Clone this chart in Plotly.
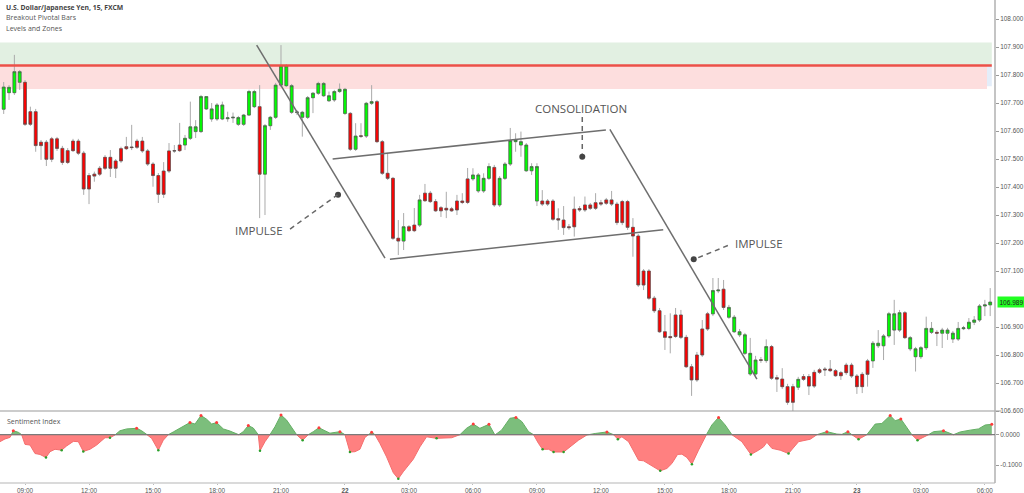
import plotly.graph_objects as go
import pandas as pd

# ---------------- data ----------------
title_lines = ["U.S. Dollar/Japanese Yen, 15, FXCM", "Breakout Pivotal Bars", "Levels and Zones"]
start_time = "2019-05-21 08:00"
bar_minutes = 15

opens = [107.678, 107.737, 107.737, 107.774, 107.774, 107.669, 107.669, 107.560, 107.560, 107.572,
         107.572, 107.538, 107.530, 107.564, 107.564, 107.521, 107.441, 107.446, 107.467, 107.506,
         107.506, 107.493, 107.537, 107.544, 107.543, 107.564, 107.564, 107.529, 107.482, 107.441,
         107.457, 107.529, 107.530, 107.550, 107.550, 107.574, 107.598, 107.598, 107.679, 107.643,
         107.643, 107.643, 107.644, 107.647, 107.624, 107.624, 107.657, 107.687, 107.687, 107.446,
         107.619, 107.649, 107.764, 107.762, 107.667, 107.666, 107.649, 107.649, 107.719, 107.735,
         107.726, 107.708, 107.711, 107.741, 107.663, 107.663, 107.535, 107.583, 107.582, 107.699,
         107.705, 107.562, 107.449, 107.431, 107.217, 107.207, 107.258, 107.264, 107.264, 107.378,
         107.378, 107.348, 107.326, 107.324, 107.322, 107.350, 107.350, 107.429, 107.429, 107.386,
         107.386, 107.431, 107.470, 107.336, 107.431, 107.482, 107.562, 107.550, 107.458, 107.458,
         107.350, 107.350, 107.350, 107.350, 107.287, 107.282, 107.258, 107.321, 107.323, 107.336,
         107.336, 107.344, 107.344, 107.354, 107.354, 107.339, 107.348, 107.348, 107.256, 107.225,
         107.100, 107.100, 107.003, 106.958, 106.883, 106.866, 106.943, 106.943, 106.863, 106.758,
         106.800, 106.893, 106.947, 106.947, 107.029, 107.035, 106.935, 106.883, 106.872, 106.806,
         106.732, 106.732, 106.783, 106.780, 106.830, 106.719, 106.714, 106.687, 106.687, 106.685,
         106.723, 106.723, 106.738, 106.747, 106.750, 106.750, 106.744, 106.737, 106.764, 106.764,
         106.725, 106.731, 106.779, 106.779, 106.833, 106.833, 106.868, 106.889, 106.889, 106.951,
         106.822, 106.794, 106.794, 106.826, 106.881, 106.881, 106.878, 106.878, 106.857, 106.857,
         106.894, 106.895, 106.917, 106.925, 106.975, 106.979]
highs = [107.775, 107.764, 107.872, 107.818, 107.782, 107.687, 107.679, 107.568, 107.568, 107.579,
         107.579, 107.547, 107.539, 107.572, 107.572, 107.529, 107.450, 107.455, 107.475, 107.514,
         107.532, 107.500, 107.544, 107.579, 107.622, 107.572, 107.579, 107.536, 107.489, 107.450,
         107.489, 107.557, 107.550, 107.629, 107.586, 107.705, 107.639, 107.729, 107.725, 107.700,
         107.700, 107.705, 107.669, 107.666, 107.654, 107.661, 107.747, 107.747, 107.764, 107.625,
         107.654, 107.772, 107.907, 107.839, 107.768, 107.675, 107.672, 107.725, 107.739, 107.776,
         107.775, 107.741, 107.747, 107.770, 107.754, 107.668, 107.628, 107.628, 107.704, 107.764,
         107.711, 107.568, 107.522, 107.436, 107.282, 107.307, 107.264, 107.325, 107.372, 107.411,
         107.386, 107.357, 107.332, 107.383, 107.329, 107.372, 107.378, 107.468, 107.467, 107.450,
         107.449, 107.485, 107.479, 107.439, 107.489, 107.611, 107.592, 107.598, 107.557, 107.485,
         107.485, 107.389, 107.357, 107.357, 107.324, 107.332, 107.268, 107.366, 107.332, 107.366,
         107.343, 107.378, 107.354, 107.361, 107.386, 107.347, 107.354, 107.354, 107.289, 107.232,
         107.107, 107.107, 107.011, 106.968, 106.943, 106.949, 106.968, 106.961, 106.872, 106.768,
         106.811, 106.925, 106.954, 107.075, 107.075, 107.068, 106.979, 106.943, 106.893, 106.879,
         106.861, 106.797, 106.793, 106.856, 106.836, 106.729, 106.753, 106.697, 106.697, 106.722,
         106.732, 106.732, 106.747, 106.754, 106.757, 106.782, 106.750, 106.743, 106.772, 106.772,
         106.732, 106.739, 106.786, 106.850, 106.889, 106.875, 106.954, 106.997, 106.961, 106.957,
         106.868, 106.829, 106.832, 106.937, 106.918, 106.889, 106.897, 106.897, 106.886, 106.918,
         106.904, 106.932, 106.939, 106.982, 106.997, 107.039]
lows = [107.661, 107.711, 107.729, 107.747, 107.618, 107.618, 107.526, 107.497, 107.475, 107.489,
        107.529, 107.479, 107.482, 107.525, 107.514, 107.372, 107.339, 107.419, 107.439, 107.461,
        107.436, 107.432, 107.486, 107.532, 107.532, 107.536, 107.522, 107.475, 107.401, 107.343,
        107.361, 107.450, 107.522, 107.525, 107.532, 107.568, 107.575, 107.593, 107.675, 107.633,
        107.636, 107.639, 107.633, 107.629, 107.618, 107.618, 107.654, 107.682, 107.289, 107.300,
        107.604, 107.643, 107.757, 107.757, 107.661, 107.657, 107.580, 107.643, 107.664, 107.729,
        107.722, 107.704, 107.704, 107.736, 107.657, 107.529, 107.529, 107.575, 107.575, 107.693,
        107.557, 107.443, 107.425, 107.211, 107.157, 107.175, 107.239, 107.239, 107.257, 107.347,
        107.343, 107.311, 107.293, 107.289, 107.311, 107.300, 107.339, 107.339, 107.422, 107.379,
        107.379, 107.425, 107.329, 107.329, 107.425, 107.475, 107.526, 107.508, 107.454, 107.443,
        107.332, 107.332, 107.332, 107.279, 107.247, 107.229, 107.247, 107.223, 107.311, 107.311,
        107.318, 107.318, 107.332, 107.336, 107.332, 107.264, 107.264, 107.247, 107.151, 107.043,
        107.032, 106.997, 106.950, 106.879, 106.818, 106.806, 106.861, 106.857, 106.754, 106.654,
        106.704, 106.793, 106.886, 106.939, 107.021, 106.961, 106.929, 106.879, 106.864, 106.800,
        106.725, 106.718, 106.772, 106.772, 106.711, 106.668, 106.679, 106.622, 106.593, 106.675,
        106.707, 106.657, 106.682, 106.732, 106.725, 106.739, 106.722, 106.711, 106.729, 106.718,
        106.661, 106.664, 106.687, 106.754, 106.825, 106.782, 106.861, 106.836, 106.882, 106.857,
        106.814, 106.741, 106.786, 106.818, 106.875, 106.832, 106.825, 106.854, 106.843, 106.850,
        106.889, 106.889, 106.907, 106.918, 106.939, 106.939]
closes = [107.757, 107.756, 107.812, 107.812, 107.624, 107.624, 107.548, 107.548, 107.499, 107.499,
          107.538, 107.488, 107.488, 107.530, 107.521, 107.393, 107.393, 107.439, 107.446, 107.467,
          107.467, 107.467, 107.493, 107.537, 107.541, 107.542, 107.529, 107.482, 107.441, 107.374,
          107.374, 107.457, 107.529, 107.530, 107.574, 107.615, 107.615, 107.723, 107.723, 107.679,
          107.693, 107.693, 107.647, 107.649, 107.648, 107.657, 107.741, 107.741, 107.446, 107.619,
          107.649, 107.764, 107.833, 107.833, 107.762, 107.668, 107.667, 107.719, 107.735, 107.770,
          107.770, 107.726, 107.741, 107.749, 107.749, 107.535, 107.582, 107.581, 107.699, 107.705,
          107.562, 107.449, 107.431, 107.217, 107.207, 107.258, 107.244, 107.244, 107.354, 107.351,
          107.348, 107.315, 107.315, 107.318, 107.315, 107.318, 107.345, 107.345, 107.443, 107.443,
          107.431, 107.473, 107.336, 107.431, 107.482, 107.566, 107.568, 107.562, 107.550, 107.473,
          107.473, 107.339, 107.339, 107.285, 107.282, 107.255, 107.255, 107.258, 107.318, 107.318,
          107.324, 107.324, 107.339, 107.342, 107.339, 107.273, 107.273, 107.256, 107.225, 107.050,
          107.050, 107.003, 106.958, 106.883, 106.863, 106.862, 106.866, 106.863, 106.758, 106.711,
          106.711, 106.800, 106.893, 107.030, 107.032, 106.970, 106.970, 106.935, 106.883, 106.872,
          106.806, 106.782, 106.781, 106.830, 106.717, 106.714, 106.687, 106.631, 106.631, 106.713,
          106.713, 106.689, 106.689, 106.738, 106.747, 106.744, 106.726, 106.726, 106.737, 106.725,
          106.687, 106.687, 106.731, 106.842, 106.842, 106.868, 106.947, 106.947, 106.951, 106.862,
          106.862, 106.822, 106.826, 106.895, 106.895, 106.878, 106.889, 106.889, 106.878, 106.895,
          106.897, 106.917, 106.925, 106.975, 106.979, 106.989]

last_price_label = "106.989"

# Sentiment Index: positions in bar units, values
sent_idx = [-0.7, 0.24, 1.18, 1.8, 2.74, 3.37, 4.0, 4.93, 5.87, 6.8, 7.93, 8.68, 9.62, 10.87, 11.8,
            13.06, 14.0, 14.93, 16.18, 17.43, 19.0, 19.93, 20.87, 21.8, 23.06, 24.93, 25.87, 26.8,
            27.74, 29.0, 29.93, 30.87, 31.8, 33.37, 34.93, 35.87, 37.0, 38.06, 39.0, 39.93, 41.18,
            42.43, 44.0, 44.93, 45.87, 46.8, 47.74, 48.06, 49.0, 49.93, 50.87, 52.0, 53.06, 54.3,
            54.93, 56.06, 57.12, 58.06, 59.12, 60.24, 61.18, 63.06, 64.0, 64.93, 65.87, 66.8, 67.74,
            69.0, 69.62, 70.56, 71.8, 73.06, 74.0, 74.93, 76.8, 78.06, 79.3, 81.18, 84.0, 85.56,
            86.8, 88.06, 89.3, 91.0, 92.12, 93.37, 94.93,
            96.06, 97.18, 98.43, 99.37, 100.3, 101.06, 102.18, 103.12, 105.0, 106.24, 107.8, 109.37,
            110.93, 113.12, 114.37, 115.18, 115.93, 117.18, 119.06, 120.0, 121.24, 123.12, 124.37,
            125.3, 126.37, 127.18, 128.12, 129.06, 130.3, 131.56, 132.8, 134.06, 135.3, 136.56,
            138.43, 140.12, 141.56, 142.5, 143.12, 144.06, 145.62, 147.18, 149.06, 151.24, 152.5,
            154.37, 156.24, 157.18, 158.31, 159.06, 160.31, 161.87, 163.43, 164.68, 166.24, 167.18,
            168.24, 170.3, 171.37, 172.8, 173.43, 174.37, 176.24, 178.12, 179.37, 181.24, 182.8,
            184.06, 185.3]
sent_val = [-0.023, -0.014, -0.009, 0.013, 0.008, 0.0, -0.032, -0.034, -0.062, -0.065, -0.075,
            -0.056, -0.048, -0.051, -0.037, -0.022, -0.023, -0.055, -0.048, -0.034, -0.010, -0.010,
            -0.001, 0.013, 0.019, 0.021, 0.013, 0.001, -0.012, -0.051, -0.018, 0.0, 0.009, 0.026,
            0.040, 0.035, 0.063, 0.051, 0.035, 0.040, 0.019, 0.012, -0.001, 0.010, 0.030, 0.022,
            0.0, -0.053, -0.023, 0.0, 0.026, 0.065, 0.048, 0.015, 0.0, -0.018, 0.0, 0.010, 0.023,
            0.013, 0.005, 0.010, 0.0, -0.057, -0.056, -0.048, -0.009, 0.008, 0.0, -0.029, -0.073,
            -0.125, -0.145, -0.122, -0.081, -0.040, -0.007, -0.012, -0.010, 0.0, 0.021, 0.035,
            0.021, 0.034, -0.001, 0.015, 0.054,
            0.057, 0.043, 0.010, 0.0, -0.029, -0.048, -0.048, -0.057, -0.057, -0.040, -0.018,
            -0.001, 0.004, 0.009, 0.0, -0.015, -0.007, -0.023, -0.084, -0.086, -0.100, -0.119,
            -0.111, -0.095, -0.065, -0.064, -0.075, -0.097, -0.051, -0.007, 0.032, 0.057, 0.032,
            0.0, -0.023, -0.065, -0.051, -0.040, -0.025, -0.045, -0.051, -0.062, -0.023, -0.015,
            0.0, 0.010, 0.002, 0.001, 0.010, 0.0, -0.015, 0.0, 0.035, 0.037, 0.063, 0.046, 0.052,
            0.0, -0.018, -0.007, 0.0, 0.010, 0.013, 0.0, 0.009, 0.015, 0.019, 0.032, 0.034]

# Levels & zones (prices)
resistance_level = 107.834
green_zone_top = 107.916
pink_zone_bottom = 107.750
zone_end_idx = 185.3
pink_end_idx = 184.4

# Drawn trendlines: (bar index, price) pairs
impulse1_line = [(47.44, 107.907), (71.5, 107.146)]
channel_upper = [(61.69, 107.500), (112.93, 107.604)]
channel_lower = [(72.43, 107.142), (123.68, 107.247)]
impulse2_line = [(113.68, 107.606), (141.25, 106.714)]

# Labels: text, (bar index, price)
labels = [("IMPULSE", 47.9, 107.243), ("CONSOLIDATION", 108.25, 107.682), ("IMPULSE", 141.6, 107.200)]
pointers = [  # dashed connector from, to (dot at 'to')
    ((53.7, 107.250), (62.6, 107.372)),
    ((108.5, 107.650), (108.5, 107.520)),
    ((135.8, 107.191), (129.5, 107.142)),
]
pointer_dots = [(62.7, 107.372), (108.5, 107.508), (129.4, 107.142)]

x_tick_idx = [4, 16, 28, 40, 52, 64, 76, 88, 100, 112, 124, 136, 148, 160, 172, 184]
x_tick_text = ["09:00", "12:00", "15:00", "18:00", "21:00", "<b>22</b>", "03:00", "06:00",
               "09:00", "12:00", "15:00", "18:00", "21:00", "<b>23</b>", "03:00", "06:00"]
price_ticks = [106.6, 106.7, 106.8, 106.9, 107.1, 107.2, 107.3, 107.4, 107.5, 107.6, 107.7, 107.8, 107.9, 108.0]
sent_ticks = [0.0, -0.1]

# ---------------- helpers ----------------
t0 = pd.Timestamp(start_time)
def T(i):
    return t0 + pd.Timedelta(minutes=bar_minutes * i)

n = len(opens)
times = [T(i) for i in range(n)]

fig = go.Figure()

# wicks (full-range candles in light grey, bodies drawn on top)
fig.add_trace(go.Candlestick(
    x=times, open=opens, high=highs, low=lows, close=closes,
    increasing=dict(fillcolor="#00FF00", line=dict(color="#aaaaaa", width=1)),
    decreasing=dict(fillcolor="#FF0000", line=dict(color="#aaaaaa", width=1)),
    whiskerwidth=0, showlegend=False, hoverinfo="skip", xaxis="x", yaxis="y"))

body_hi = [max(o, c) for o, c in zip(opens, closes)]
body_lo = [min(o, c) for o, c in zip(opens, closes)]
fig.add_trace(go.Candlestick(
    x=times, open=opens, high=body_hi, low=body_lo, close=closes,
    increasing=dict(fillcolor="#00FF00", line=dict(color="#505050", width=0.6)),
    decreasing=dict(fillcolor="#FF0000", line=dict(color="#505050", width=0.6)),
    whiskerwidth=0, showlegend=False, xaxis="x", yaxis="y"))

# sentiment split into positive / negative fills
px_, py_, nx_, ny_ = [], [], [], []
for k in range(len(sent_idx)):
    if k > 0:
        a, b = sent_val[k - 1], sent_val[k]
        if a * b < 0:
            xi = sent_idx[k - 1] + (sent_idx[k] - sent_idx[k - 1]) * (a / (a - b))
            px_.append(T(xi)); py_.append(0.0)
            nx_.append(T(xi)); ny_.append(0.0)
    v = sent_val[k]
    px_.append(T(sent_idx[k])); py_.append(max(v, 0.0))
    nx_.append(T(sent_idx[k])); ny_.append(min(v, 0.0))

fig.add_trace(go.Scatter(x=px_, y=py_, mode="lines", fill="tozeroy",
                         fillcolor="rgb(124,190,124)", line=dict(color="rgb(100,175,100)", width=1),
                         hoverinfo="skip", showlegend=False, xaxis="x", yaxis="y2"))
fig.add_trace(go.Scatter(x=nx_, y=ny_, mode="lines", fill="tozeroy",
                         fillcolor="rgb(255,128,128)", line=dict(color="rgb(245,110,110)", width=1),
                         hoverinfo="skip", showlegend=False, xaxis="x", yaxis="y2"))

hi_x, hi_y, lo_x, lo_y = [], [], [], []
for k in range(1, len(sent_val) - 1):
    v = sent_val[k]
    if v > 0.004 and v >= sent_val[k - 1] and v >= sent_val[k + 1]:
        hi_x.append(T(sent_idx[k])); hi_y.append(v)
    if v < -0.004 and v <= sent_val[k - 1] and v <= sent_val[k + 1]:
        lo_x.append(T(sent_idx[k])); lo_y.append(v)
hi_x.append(T(sent_idx[-1])); hi_y.append(sent_val[-1])
fig.add_trace(go.Scatter(x=hi_x, y=hi_y, mode="markers", marker=dict(color="#ff3b3b", size=3),
                         hoverinfo="skip", showlegend=False, xaxis="x", yaxis="y2"))
fig.add_trace(go.Scatter(x=lo_x, y=lo_y, mode="markers", marker=dict(color="#2aa02a", size=2.5),
                         hoverinfo="skip", showlegend=False, xaxis="x", yaxis="y2"))

# ---------------- shapes ----------------
shapes = []
shapes.append(dict(type="rect", xref="x", yref="y", x0=T(-0.8), x1=T(zone_end_idx),
                   y0=resistance_level, y1=green_zone_top, fillcolor="rgb(226,240,226)",
                   line=dict(width=0), layer="below"))
shapes.append(dict(type="rect", xref="x", yref="y", x0=T(-0.8), x1=T(pink_end_idx),
                   y0=pink_zone_bottom, y1=resistance_level, fillcolor="rgb(253,222,222)",
                   line=dict(width=0), layer="below"))
shapes.append(dict(type="rect", xref="x", yref="y", x0=T(pink_end_idx), x1=T(zone_end_idx),
                   y0=pink_zone_bottom + 0.01, y1=resistance_level, fillcolor="rgb(228,238,250)",
                   line=dict(width=0), layer="below"))
shapes.append(dict(type="line", xref="x", yref="y", x0=T(-0.8), x1=T(zone_end_idx),
                   y0=resistance_level, y1=resistance_level,
                   line=dict(color="rgb(236,80,72)", width=2.5)))

for ln in (impulse1_line, channel_upper, channel_lower, impulse2_line):
    (i0, p0), (i1, p1) = ln
    shapes.append(dict(type="line", xref="x", yref="y", x0=T(i0), y0=p0, x1=T(i1), y1=p1,
                       line=dict(color="#6e6e6e", width=1.5)))
for (i0, p0), (i1, p1) in pointers:
    shapes.append(dict(type="line", xref="x", yref="y", x0=T(i0), y0=p0, x1=T(i1), y1=p1,
                       line=dict(color="#666666", width=1.5, dash="5px,4px")))

# panel borders
split = 72 / 483
shapes.append(dict(type="line", xref="paper", yref="paper", x0=0, x1=1.006, y0=split, y1=split,
                   line=dict(color="#9a9a9a", width=1.2)))
shapes.append(dict(type="line", xref="paper", yref="paper", x0=0, x1=1.0, y0=0, y1=0,
                   line=dict(color="#b5b5b5", width=1.2)))
shapes.append(dict(type="line", xref="paper", yref="paper", x0=1, x1=1, y0=0, y1=1,
                   line=dict(color="#b0b0b0", width=1.5)))
shapes.append(dict(type="line", xref="x", yref="y2", x0=T(-0.8), x1=T(186.2), y0=0, y1=0,
                   line=dict(color="#7a7a7a", width=1.2)))

fig.add_trace(go.Scatter(x=[T(d[0]) for d in pointer_dots], y=[d[1] for d in pointer_dots],
                         mode="markers", marker=dict(color="#444", size=6),
                         hoverinfo="skip", showlegend=False, xaxis="x", yaxis="y"))

# ---------------- annotations ----------------
ann = []
for txt, i, p in labels:
    ann.append(dict(text=txt, x=T(i), y=p, xref="x", yref="y", showarrow=False,
                    font=dict(family="Open Sans", size=11.5, color="#555555")))
ann.append(dict(text="<b>" + title_lines[0] + "</b>", x=0.004, y=1 - 8 / 483, xref="paper", yref="paper",
                xanchor="left", yanchor="middle", showarrow=False,
                font=dict(family="Open Sans", size=6.8, color="#444")))
ann.append(dict(text=title_lines[1], x=0.004, y=1 - 18 / 483, xref="paper", yref="paper",
                xanchor="left", yanchor="middle", showarrow=False,
                font=dict(family="Open Sans", size=7, color="#555")))
ann.append(dict(text=title_lines[2], x=0.004, y=1 - 28 / 483, xref="paper", yref="paper",
                xanchor="left", yanchor="middle", showarrow=False,
                font=dict(family="Open Sans", size=7, color="#555")))
ann.append(dict(text="Sentiment Index", x=0.005, y=1 - 421 / 483, xref="paper", yref="paper",
                xanchor="left", yanchor="middle", showarrow=False,
                font=dict(family="Open Sans", size=7, color="#555")))
ann.append(dict(text=last_price_label, x=1.002, y=closes[-1], xref="paper", yref="y",
                xanchor="left", yanchor="middle", showarrow=False, bgcolor="#22ff22",
                borderpad=1.5, font=dict(family="Liberation Sans", size=6.5, color="#222")))

tick_font = dict(family="Liberation Sans", size=6.4, color="#555")
fig.update_layout(
    width=1024, height=493,
    margin=dict(l=0, r=29, t=0, b=10, autoexpand=False),
    paper_bgcolor="white", plot_bgcolor="white",
    showlegend=False, boxgap=0.25, boxmode="overlay",
    shapes=shapes, annotations=ann,
    xaxis=dict(type="date", range=[T(-0.694), T(185.9)], domain=[0, 1], anchor="y2",
               rangeslider=dict(visible=False), showgrid=False, zeroline=False, automargin=False,
               tickvals=[T(i) for i in x_tick_idx], ticktext=x_tick_text,
               ticks="outside", ticklen=1, tickcolor="#bbb",
               tickfont=tick_font, showline=False),
    yaxis=dict(domain=[split, 1], range=[106.6, 108.068], side="right", anchor="x",
               showgrid=False, zeroline=False, automargin=False, tickvals=price_ticks,
               ticktext=["%.3f" % v for v in price_ticks], ticks="outside", ticklen=3,
               tickcolor="#999", tickfont=tick_font),
    yaxis2=dict(domain=[0, split], range=[-0.159, 0.078], side="right", anchor="x",
                showgrid=False, zeroline=False, automargin=False, tickvals=sent_ticks,
                ticktext=["%.4f" % v for v in sent_ticks], ticks="outside", ticklen=3,
                tickcolor="#999", tickfont=tick_font),
)

fig.write_html("out.html", config={"displayModeBar": False},
               post_script="document.body.style.margin='0';document.body.style.padding='0';")
